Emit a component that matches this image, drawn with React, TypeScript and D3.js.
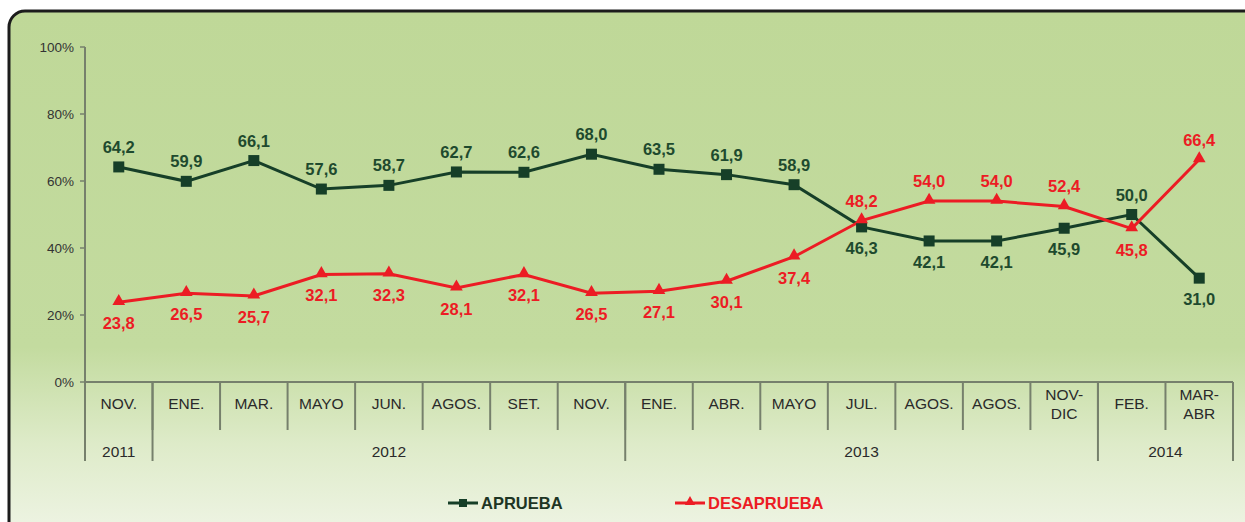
import React from 'react';
import * as d3 from 'd3';

const months = ['NOV.', 'ENE.', 'MAR.', 'MAYO', 'JUN.', 'AGOS.', 'SET.', 'NOV.', 'ENE.', 'ABR.', 'MAYO', 'JUL.', 'AGOS.', 'AGOS.', 'NOV-\nDIC', 'FEB.', 'MAR-\nABR'];
const years = [
  { label: '2011', from: 0, to: 0 },
  { label: '2012', from: 1, to: 7 },
  { label: '2013', from: 8, to: 14 },
  { label: '2014', from: 15, to: 16 },
];
const aprueba = [64.2, 59.9, 66.1, 57.6, 58.7, 62.7, 62.6, 68.0, 63.5, 61.9, 58.9, 46.3, 42.1, 42.1, 45.9, 50.0, 31.0];
const desaprueba = [23.8, 26.5, 25.7, 32.1, 32.3, 28.1, 32.1, 26.5, 27.1, 30.1, 37.4, 48.2, 54.0, 54.0, 52.4, 45.8, 66.4];
// labels below the green points / above the red points
const apruebaBelow = [11, 12, 13, 14, 16];
const desapruebaAbove = [11, 12, 13, 14, 16];
const yTicks = [0, 20, 40, 60, 80, 100];

const GREEN = '#163f28';
const RED = '#ec1c24';
const AXIS = '#76806c';
const FONT = 'Liberation Sans, Arial, sans-serif';

const fmt = (v: number) => v.toFixed(1).replace('.', ',');

export default function App() {
  const W = 1245;
  const H = 522;
  const x = d3.scaleBand<number>().domain(d3.range(months.length)).range([85, 1233]).padding(0);
  const y = d3.scaleLinear().domain([0, 100]).range([382, 47]);
  const cx = (i: number) => (x(i) as number) + x.bandwidth() / 2;
  const line = d3.line<number>().x((_, i) => cx(i)).y((d) => y(d));
  const tri = d3.symbol().type(d3.symbolTriangle).size(70)();
  const y0 = y(0);

  return (
    <svg width={W} height={H} style={{ position: 'absolute', left: 0, top: 0 }}>
      <defs>
        <linearGradient id="bg" x1="0" y1="0" x2="0" y2="1">
          <stop offset="0" stopColor="#bfd898" />
          <stop offset="0.62" stopColor="#c3db9f" />
          <stop offset="0.8" stopColor="#deebc9" />
          <stop offset="1" stopColor="#f2f6ea" />
        </linearGradient>
      </defs>
      <rect x={0} y={0} width={W} height={H} fill="#fff" />
      <rect x={9} y={11} width={W + 20} height={H + 20} rx={16} fill="url(#bg)" stroke="#1c1c1c" strokeWidth={3} />

      {/* y axis */}
      <line x1={85} x2={85} y1={y(100)} y2={y0 + 79} stroke={AXIS} strokeWidth={2} />
      {yTicks.map((t) => (
        <g key={t}>
          <line x1={80} x2={85} y1={y(t)} y2={y(t)} stroke={AXIS} strokeWidth={1.5} />
          <text x={74} y={y(t) + 4.5} textAnchor="end" fontFamily={FONT} fontSize={13.5} fill="#333">
            {t}%
          </text>
        </g>
      ))}

      {/* x axis */}
      <line x1={85} x2={1233} y1={y0} y2={y0} stroke={AXIS} strokeWidth={2} />
      {months.map((m, i) => {
        const parts = m.split('\n');
        return (
          <g key={i}>
            {i > 0 && <line x1={x(i)} x2={x(i)} y1={y0} y2={y0 + 48} stroke={AXIS} strokeWidth={2} />}
            {parts.map((p, k) => (
              <text
                key={k}
                x={cx(i)}
                y={parts.length === 1 ? y0 + 27 : y0 + 18 + k * 19}
                textAnchor="middle"
                fontFamily={FONT}
                fontSize={15.5}
                fill="#2a2a2a"
              >
                {p}
              </text>
            ))}
          </g>
        );
      })}
      {years.map((yr) => {
        const a = x(yr.from) as number;
        const b = (x(yr.to) as number) + x.bandwidth();
        return (
          <g key={yr.label}>
            <line x1={b} x2={b} y1={y0} y2={y0 + 79} stroke={AXIS} strokeWidth={2} />
            <text x={(a + b) / 2} y={y0 + 75} textAnchor="middle" fontFamily={FONT} fontSize={15.5} fill="#2a2a2a">
              {yr.label}
            </text>
          </g>
        );
      })}

      {/* series */}
      <path d={line(aprueba) as string} fill="none" stroke={GREEN} strokeWidth={3} />
      <path d={line(desaprueba) as string} fill="none" stroke={RED} strokeWidth={3} />
      {aprueba.map((v, i) => (
        <g key={'a' + i}>
          <rect x={cx(i) - 5.5} y={y(v) - 5.5} width={11} height={11} fill={GREEN} />
          <text
            x={cx(i)}
            y={apruebaBelow.includes(i) ? y(v) + 27 : y(v) - 14}
            textAnchor="middle"
            fontFamily={FONT}
            fontWeight="bold"
            fontSize={16.5}
            fill="#1e4a2e"
          >
            {fmt(v)}
          </text>
        </g>
      ))}
      {desaprueba.map((v, i) => (
        <g key={'d' + i}>
          <path d={tri as string} transform={`translate(${cx(i)},${y(v) - 1})`} fill={RED} />
          <text
            x={cx(i)}
            y={desapruebaAbove.includes(i) ? y(v) - 14 : y(v) + 27}
            textAnchor="middle"
            fontFamily={FONT}
            fontWeight="bold"
            fontSize={16.5}
            fill={RED}
          >
            {fmt(v)}
          </text>
        </g>
      ))}

      {/* legend */}
      <line x1={448} x2={478} y1={503} y2={503} stroke={GREEN} strokeWidth={3} />
      <rect x={459} y={499} width={8} height={8} fill={GREEN} />
      <text x={481} y={509} fontFamily={FONT} fontWeight="bold" fontSize={16.5} fill="#1e3524">
        APRUEBA
      </text>
      <line x1={675} x2={705} y1={503} y2={503} stroke={RED} strokeWidth={3} />
      <path d={d3.symbol().type(d3.symbolTriangle).size(45)() as string} transform="translate(690,502)" fill={RED} />
      <text x={708} y={509} fontFamily={FONT} fontWeight="bold" fontSize={16.5} fill={RED}>
        DESAPRUEBA
      </text>
    </svg>
  );
}
